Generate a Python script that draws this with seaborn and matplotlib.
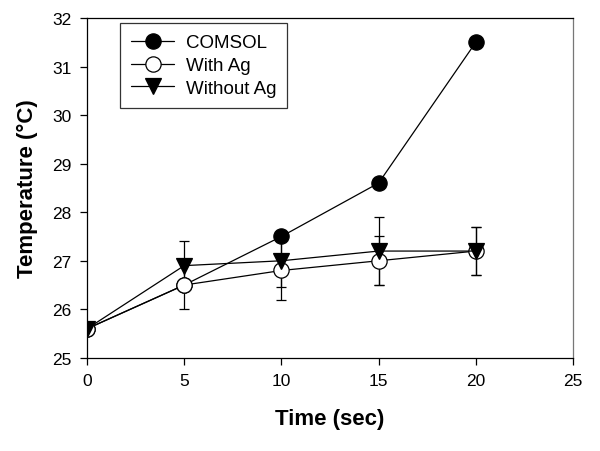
import matplotlib
matplotlib.use("Agg")
import matplotlib.pyplot as plt
import seaborn as sns

# === Data ===
time_sec = [0, 5, 10, 15, 20]
comsol = [25.6, 26.5, 27.5, 28.6, 31.5]
with_ag = [25.6, 26.5, 26.8, 27.0, 27.2]
with_ag_err = [0.0, 0.5, 0.6, 0.5, 0.5]
without_ag = [25.6, 26.9, 27.0, 27.2, 27.2]
without_ag_err = [0.0, 0.5, 0.55, 0.7, 0.5]

sns.set_style("ticks")
plt.rcParams['font.family'] = ['Liberation Sans', 'DejaVu Sans']
plt.rcParams['text.color'] = 'black'
plt.rcParams['axes.labelcolor'] = 'black'
plt.rcParams['xtick.color'] = 'black'
plt.rcParams['ytick.color'] = 'black'

fig, ax = plt.subplots(figsize=(6, 4.52), dpi=100)
fig.subplots_adjust(left=0.145, right=0.955, top=0.958, bottom=0.206)

# error bars first so the markers sit on top
ax.errorbar(time_sec, with_ag, yerr=with_ag_err, fmt='none', ecolor='black',
            elinewidth=0.9, capsize=3.8, capthick=0.9, zorder=1)
ax.errorbar(time_sec, without_ag, yerr=without_ag_err, fmt='none', ecolor='black',
            elinewidth=0.9, capsize=3.8, capthick=0.9, zorder=1)

common = dict(color='black', linewidth=0.9, markersize=11,
              markeredgecolor='black', markeredgewidth=0.9)
sns.lineplot(x=time_sec, y=comsol, marker='o', markerfacecolor='black',
             label='COMSOL', ax=ax, zorder=3, **common)
sns.lineplot(x=time_sec, y=with_ag, marker='o', markerfacecolor='white',
             label='With Ag', ax=ax, zorder=4, **common)
sns.lineplot(x=time_sec, y=without_ag, marker='v', markerfacecolor='black',
             label='Without Ag', ax=ax, zorder=5, **common)

ax.set_xlim(0, 25)
ax.set_ylim(25, 32)
ax.set_xticks([0, 5, 10, 15, 20, 25])
ax.set_yticks([25, 26, 27, 28, 29, 30, 31, 32])
ax.tick_params(axis='both', labelsize=12.5, direction='out', length=5,
               width=0.9, color='black', pad=6)
for side in ['left', 'bottom', 'top', 'right']:
    ax.spines[side].set_visible(True)
    ax.spines[side].set_linewidth(0.9)
    ax.spines[side].set_color('black')
ax.spines['right'].set_color('#777777')

ax.set_xlabel("Time (sec)", fontsize=16, fontweight='bold', labelpad=14)
ax.set_ylabel("Temperature (\u00b0C)", fontsize=16, fontweight='bold', labelpad=10)

leg = ax.legend(loc='upper left', bbox_to_anchor=(0.068, 0.985), fontsize=13.5,
                frameon=True, fancybox=False, handlelength=2.3,
                borderaxespad=0, borderpad=0.6, labelspacing=0.3,
                handletextpad=0.6)
leg.get_frame().set_edgecolor('black')
leg.get_frame().set_linewidth(0.9)

plt.savefig("out.png", dpi=100)
